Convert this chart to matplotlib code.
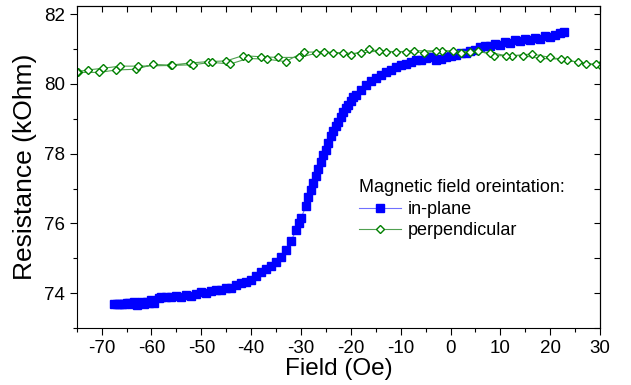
import matplotlib
matplotlib.use("Agg")
import matplotlib.pyplot as plt
from matplotlib.ticker import MultipleLocator

plt.rcParams['font.family'] = ['Liberation Sans', 'DejaVu Sans']
plt.rcParams['axes.unicode_minus'] = False

# in-plane sweep
field_ip = [-67.5, -67, -66.5, -66, -65.5, -65, -64.5, -64, -63.5, -63, -62.5, -62,
            -61.5, -61, -60.5, -60, -59.5, -58.5, -58, -57, -56, -55, -54, -53, -52,
            -51, -50, -49, -48, -47, -46, -45, -44, -43, -42, -41, -40, -39, -38, -37,
            -36, -35, -34, -33, -32, -31, -30.5, -30, -29, -28.5, -28, -27.5, -27,
            -26.5, -26, -25.5, -25, -24.5, -24, -23.5, -23, -22.5, -22, -21.5, -21,
            -20.5, -20, -19.5, -19, -18, -17, -16, -15, -14, -13, -12, -11, -10, -9,
            -8, -7, -6, -5, -4, -3, -2, -1, 0, 1, 2, 3, 4, 5, 6, 7, 8, 9, 10, 11, 12,
            13, 14, 15, 16, 17, 18, 19, 20, 21, 22, 22.7]
res_ip = [73.68, 73.68, 73.68, 73.69, 73.70, 73.72, 73.73, 73.70, 73.75, 73.66, 73.72,
          73.74, 73.70, 73.76, 73.73, 73.80, 73.72, 73.86, 73.89, 73.88, 73.90, 73.92,
          73.90, 73.95, 73.93, 73.98, 74.02, 74.00, 74.05, 74.08, 74.10, 74.15, 74.14,
          74.22, 74.28, 74.32, 74.38, 74.50, 74.60, 74.70, 74.78, 74.88, 75.05, 75.25,
          75.50, 75.80, 76.00, 76.15, 76.50, 76.75, 76.95, 77.15, 77.35, 77.55, 77.75,
          77.95, 78.10, 78.30, 78.50, 78.65, 78.80, 78.92, 79.05, 79.20, 79.30, 79.40,
          79.50, 79.62, 79.68, 79.82, 79.97, 80.08, 80.16, 80.25, 80.35, 80.40, 80.48,
          80.54, 80.58, 80.64, 80.69, 80.70, 80.74, 80.76, 80.68, 80.72, 80.78, 80.80,
          80.82, 80.88, 80.90, 80.95, 80.98, 81.05, 81.10, 81.08, 81.15, 81.12, 81.20,
          81.18, 81.25, 81.22, 81.28, 81.26, 81.32, 81.30, 81.36, 81.34, 81.40, 81.45,
          81.50]

# perpendicular: forward and backward sweeps
field_perp = [-74.8, -70.5, -67.1, -63.2, -59.6, -56.1, -52.3, -48.6, -45.0, -41.7,
              -38.1, -34.6, -30.4, -26.9, -23.5, -20.0, -16.4, -12.9, -8.9, -5.3, -1.7,
              2.0, 5.5, 8.8, 12.3, 16.4, 19.9, 23.4, 27.2, 30.0,
              29.1, 25.6, 22.1, 17.9, 14.6, 11.2, 7.9, 4.0, 0.4, -3.0, -7.3, -10.9,
              -14.4, -18.0, -21.6, -25.3, -29.5, -33.1, -36.9, -40.7, -44.2, -47.9,
              -51.7, -55.8, -62.8, -66.3, -69.7, -72.8, -75.0]
res_perp = [80.33, 80.33, 80.40, 80.42, 80.56, 80.54, 80.60, 80.64, 80.66, 80.81,
            80.78, 80.76, 80.76, 80.88, 80.90, 80.83, 80.99, 80.92, 80.92, 80.90, 80.95,
            80.88, 80.95, 80.81, 80.81, 80.86, 80.76, 80.69, 80.56, 80.55,
            80.56, 80.62, 80.71, 80.73, 80.81, 80.81, 80.90, 80.92, 80.95, 80.95, 80.95,
            80.92, 80.95, 80.88, 80.88, 80.92, 80.91, 80.64, 80.71, 80.73, 80.57, 80.62,
            80.55, 80.53, 80.51, 80.51, 80.45, 80.40, 80.35]

fig = plt.figure(figsize=(6.31, 3.85), dpi=100)
ax = fig.add_axes([0.1216, 0.148, 0.8294, 0.836])

ax.plot(field_ip, res_ip, color='#7070ff', lw=0.8, marker='s', ms=5.5,
        mfc='#0000ff', mec='#0000ff', label='in-plane')
ax.plot(field_perp, res_perp, color='#50a050', lw=0.8, marker='D', ms=4.5,
        mfc='white', mec='#008000', mew=1.0, label='perpendicular')

ax.set_xlim(-75, 30)
ax.set_ylim(73, 82.23)
ax.xaxis.set_major_locator(MultipleLocator(10))
ax.xaxis.set_minor_locator(MultipleLocator(5))
ax.yaxis.set_major_locator(MultipleLocator(2))
ax.yaxis.set_minor_locator(MultipleLocator(1))
ax.tick_params(which='major', direction='out', length=5, width=0.8, labelsize=13.5)
ax.tick_params(which='minor', direction='out', length=3, width=0.8)

top = ax.secondary_xaxis('top')
top.xaxis.set_major_locator(MultipleLocator(5))
top.tick_params(direction='in', length=4, width=0.8, labeltop=False)
right = ax.secondary_yaxis('right')
right.yaxis.set_major_locator(MultipleLocator(1))
right.tick_params(direction='in', length=4, width=0.8, labelright=False)

ax.set_xlabel('Field (Oe)', fontsize=17.5, labelpad=1)
ax.set_ylabel('Resistance (kOhm)', fontsize=19, labelpad=5)

leg = ax.legend(loc='upper left', bbox_to_anchor=(0.523, 0.49), frameon=False,
                title='Magnetic field oreintation:', title_fontsize=13,
                fontsize=13, handlelength=2.3, handletextpad=0.4,
                labelspacing=0.25, borderpad=0, alignment='left')

fig.savefig('out.png', dpi=100)
